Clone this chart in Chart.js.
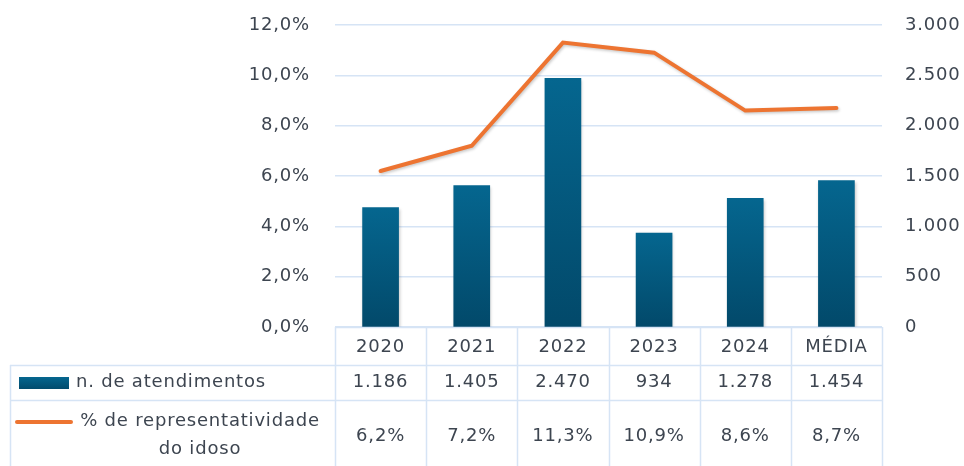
<!DOCTYPE html>
<html>
<head>
<meta charset="utf-8">
<script src="https://cdn.jsdelivr.net/npm/chart.js@4.4.1/dist/chart.umd.min.js"></script>
<style>
  html, body { margin: 0; padding: 0; background: #fff; }
  #wrap { width: 964px; height: 466px; }
</style>
</head>
<body>
<div id="wrap"><canvas id="chart" width="964" height="466"></canvas></div>
<script>
const categories = ['2020', '2021', '2022', '2023', '2024', 'MÉDIA']
const atendimentos = [1186, 1405, 2470, 934, 1278, 1454]
const representatividade = [6.2, 7.2, 11.3, 10.9, 8.6, 8.7]
const barLabel = 'n. de atendimentos'
const lineLabel = ['% de representatividade', 'do idoso']

const FONT = '"DejaVu Sans", "Open Sans", sans-serif'
const SIZE = 18
const SPACING = '0.8px'
const TEXT = '#3d4550'
const GRID = '#d6e4f5'
const BLUE_TOP = '#05668f'
const BLUE_BOT = '#02496a'
const ORANGE = '#ed7431'

// 1186 -> "1.186"
function thousands(v) {
    return String(Math.round(v)).replace(/\B(?=(\d{3})+(?!\d))/g, '.')
}
function pct(v) {
    return v.toFixed(1).replace('.', ',') + '%'
}

function barGradient(context) {
    const chart = context.chart
    const scale = chart.scales.y1
    if (!chart.chartArea || !scale) return BLUE_TOP
    const top = scale.getPixelForValue(context.raw)
    const bottom = scale.getPixelForValue(0)
    const g = chart.ctx.createLinearGradient(0, top, 0, bottom)
    g.addColorStop(0, BLUE_TOP)
    g.addColorStop(1, BLUE_BOT)
    return g
}

// fixed axis widths, no auto padding so the plot area sits where the layout padding says
function fixAxis(width) {
    return s => {
        s.width = width
        s.paddingTop = 0
        s.paddingBottom = 0
    }
}

// letter spacing for all canvas text + soft shadow under the marks
const look = {
    id: 'look',
    beforeDraw(chart) {
        chart.ctx.letterSpacing = SPACING
    },
    beforeDatasetDraw(chart) {
        const ctx = chart.ctx
        ctx.save()
        ctx.shadowColor = 'rgba(0,0,0,0.22)'
        ctx.shadowBlur = 3
        ctx.shadowOffsetX = 1
        ctx.shadowOffsetY = 1.5
    },
    afterDatasetDraw(chart) {
        chart.ctx.restore()
    }
}

// data table under the plot, drawn from the same arrays
const dataTable = {
    id: 'dataTable',
    afterDraw(chart) {
        const ctx = chart.ctx
        const area = chart.chartArea
        const x = chart.scales.x
        const left = 10
        const rowTop = area.bottom
        const r1 = rowTop + 38
        const r2 = r1 + 35
        const bottom = 480
        const n = categories.length
        const colW = (area.right - area.left) / n

        ctx.save()
        ctx.letterSpacing = SPACING
        ctx.strokeStyle = GRID
        ctx.lineWidth = 1.5
        ctx.beginPath()
        for (let i = 0; i <= n; i++) {
            const xx = Math.round(area.left + colW * i) + 0.5
            ctx.moveTo(xx, rowTop)
            ctx.lineTo(xx, bottom)
        }
        ctx.moveTo(left + 0.5, r1)
        ctx.lineTo(left + 0.5, bottom)
        ctx.moveTo(area.left, rowTop + 0.5)
        ctx.lineTo(area.right, rowTop + 0.5)
        ctx.moveTo(left, r1 + 0.5)
        ctx.lineTo(area.right, r1 + 0.5)
        ctx.moveTo(left, r2 + 0.5)
        ctx.lineTo(area.right, r2 + 0.5)
        ctx.stroke()

        ctx.fillStyle = TEXT
        ctx.font = SIZE + 'px ' + FONT
        ctx.textAlign = 'center'
        ctx.textBaseline = 'middle'
        categories.forEach((c, i) => {
            const cx = x.getPixelForValue(i)
            ctx.fillText(c, cx, (rowTop + r1) / 2 + 1)
            ctx.fillText(thousands(atendimentos[i]), cx, (r1 + r2) / 2)
            ctx.fillText(pct(representatividade[i]), cx, r2 + 36)
        })

        // legend keys
        const g = ctx.createLinearGradient(0, r1 + 12, 0, r1 + 25)
        g.addColorStop(0, BLUE_TOP)
        g.addColorStop(1, BLUE_BOT)
        ctx.fillStyle = g
        ctx.fillRect(19, r1 + 12, 50, 12)
        ctx.fillStyle = TEXT
        ctx.textAlign = 'left'
        ctx.fillText(barLabel, 76, (r1 + r2) / 2)

        ctx.strokeStyle = ORANGE
        ctx.lineWidth = 4
        ctx.lineCap = 'round'
        ctx.beginPath()
        ctx.moveTo(17, r2 + 22)
        ctx.lineTo(71, r2 + 22)
        ctx.stroke()
        ctx.textAlign = 'center'
        ctx.fillText(lineLabel[0], 200, r2 + 21)
        ctx.fillText(lineLabel[1], 200, r2 + 49)
        ctx.restore()
    }
}

new Chart(document.getElementById('chart').getContext('2d'), {
    data: {
        labels: categories,
        datasets: [
            {
                type: 'line',
                label: lineLabel.join(' '),
                data: representatividade,
                yAxisID: 'y',
                borderColor: ORANGE,
                borderWidth: 4,
                pointRadius: 0,
                tension: 0,
                borderCapStyle: 'round',
                order: 0
            },
            {
                type: 'bar',
                label: barLabel,
                data: atendimentos,
                yAxisID: 'y1',
                backgroundColor: barGradient,
                barThickness: 36,
                order: 1
            }
        ]
    },
    options: {
        responsive: false,
        animation: false,
        maintainAspectRatio: false,
        layout: { padding: { top: 25, bottom: 139, left: 0, right: 0 } },
        plugins: {
            legend: { display: false },
            tooltip: { enabled: false }
        },
        scales: {
            x: {
                display: false,
                offset: true
            },
            y: {
                position: 'left',
                min: 0,
                max: 12,
                afterFit: fixAxis(335),
                ticks: {
                    stepSize: 2,
                    padding: 25,
                    color: TEXT,
                    font: { family: FONT, size: SIZE },
                    callback: v => pct(v)
                },
                grid: { color: GRID, lineWidth: 1.5, drawTicks: false },
                border: { display: false }
            },
            y1: {
                position: 'right',
                min: 0,
                max: 3000,
                afterFit: fixAxis(82),
                ticks: {
                    stepSize: 500,
                    padding: 23,
                    color: TEXT,
                    font: { family: FONT, size: SIZE },
                    callback: v => thousands(v)
                },
                grid: { display: false, drawTicks: false },
                border: { display: false }
            }
        }
    },
    plugins: [look, dataTable]
})
</script>
</body>
</html>
